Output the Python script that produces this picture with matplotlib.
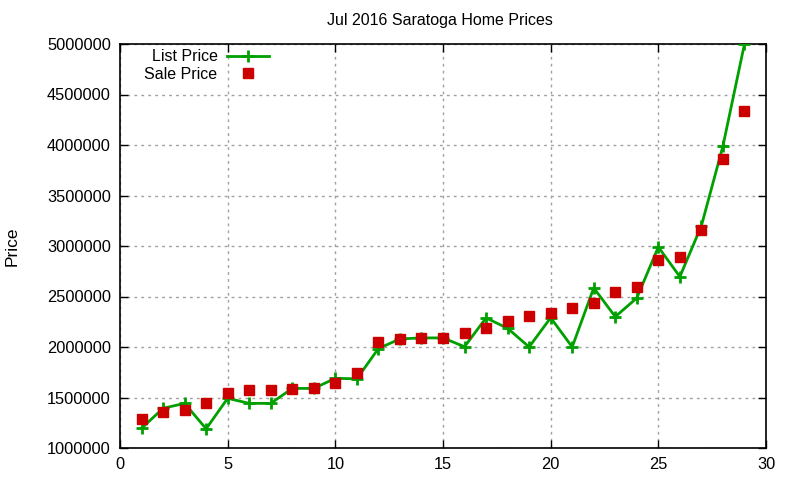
import matplotlib
matplotlib.use("Agg")
import matplotlib.pyplot as plt

plt.rcParams['font.family'] = ['Liberation Sans', 'DejaVu Sans']

title = "Jul 2016 Saratoga Home Prices"
x = list(range(1, 30))
list_price = [1195000, 1393000, 1442000, 1190000, 1492000, 1442000, 1442000,
              1590000, 1590000, 1690000, 1685000, 1985000, 2080000, 2090000,
              2090000, 2003000, 2288000, 2185000, 2000000, 2290000, 2000000,
              2585000, 2300000, 2485000, 2990000, 2696000, 3200000, 3990000,
              5000000]
sale_price = [1287000, 1360000, 1380000, 1450000, 1548000, 1574000, 1574000,
              1587000, 1597000, 1647000, 1742000, 2052000, 2082000, 2092000,
              2092000, 2141000, 2191000, 2260000, 2310000, 2337000, 2389000,
              2439000, 2548000, 2597000, 2864000, 2894000, 3161000, 3864000,
              4340000]
xticks = [0, 5, 10, 15, 20, 25, 30]
yticks = [1000000, 1500000, 2000000, 2500000, 3000000, 3500000, 4000000,
          4500000, 5000000]

fig = plt.figure(figsize=(8, 4.8), dpi=100)
ax = fig.add_axes([120/800, 1-448/480, (766-120)/800, (448-44)/480])

ax.plot(x, list_price, color='#00a000', lw=2, marker='+', ms=9, mew=2,
        label='List Price', zorder=3)
ax.plot(x, sale_price, ls='none', color='#cc0000', marker='s', ms=7,
        label='Sale Price', zorder=4)

ax.set_xlim(0, 30)
ax.set_ylim(1000000, 5000000)
ax.set_xticks(xticks)
ax.set_yticks(yticks)
ax.set_yticklabels([str(v) for v in yticks])
ax.tick_params(direction='in', length=6, width=1, top=True, right=True,
               labelsize=11.8, pad=6.5, colors='black')
ax.grid(True, color='#a0a0a0', ls=(0, (2, 3)), lw=1)
for s in ax.spines.values():
    s.set_linewidth(1.2)

fig.text(440/800, 1-21/480, title, fontsize=11.5, ha='center', va='center')
fig.text(12/800, 1-246/480, 'Price', fontsize=12.5, rotation=90,
         ha='center', va='center')

ax.legend(loc='upper left', bbox_to_anchor=(18/646, 1.0 + 1/404), frameon=False,
          markerfirst=False, fontsize=11.5, handlelength=2.6,
          borderaxespad=0.0, labelspacing=0.15, handletextpad=0.6)

fig.savefig('out.png', dpi=100)
